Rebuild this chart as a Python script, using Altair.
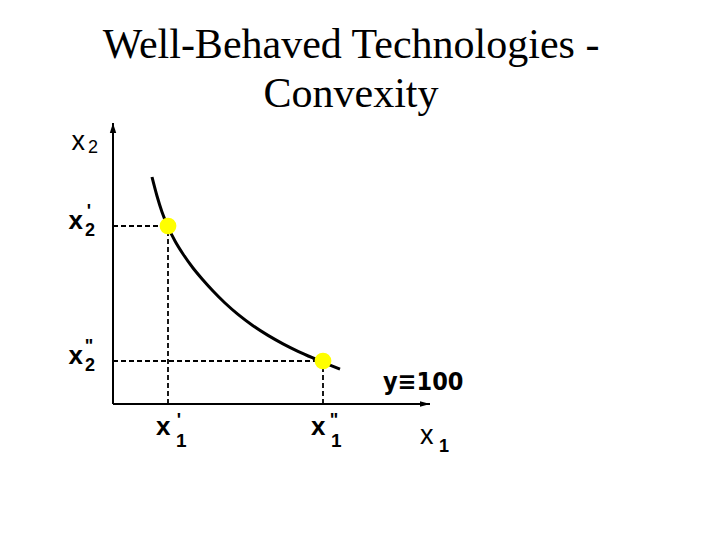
import altair as alt
import pandas as pd

# ---- data (input-quantity units; origin at the axes corner) ----
title_lines = ["Well-Behaved Technologies -", "Convexity"]

curve_x1 = [39, 44, 49, 55, 62, 70, 80, 90, 100, 112, 125, 140, 155, 170, 185, 200, 215, 227]
curve_x2 = [227, 208, 192, 177, 163, 150, 136, 124, 113, 101, 89.6, 78.3, 68.6, 60.2, 52.7, 46, 39.7, 34.9]

bundle_x1 = [55, 210]     # x1', x1''
bundle_x2 = [178, 43]     # x2', x2''
primes = ["'", '"']

x1_axis_end = 317
x2_axis_end = 281
output_label = "y\u2261100"

# ---- frames ----
curve = pd.DataFrame({"x1": curve_x1, "x2": curve_x2})
bundles = pd.DataFrame({"x1": bundle_x1, "x2": bundle_x2, "zero": [0, 0], "prime": primes})
axes_df = pd.DataFrame({"x1": [0, 0], "x2": [0, 0], "x1e": [x1_axis_end, 0], "x2e": [0, x2_axis_end]})
x1_tip = pd.DataFrame({"x1": [x1_axis_end], "x2": [0]})
x2_tip = pd.DataFrame({"x1": [0], "x2": [x2_axis_end]})
curve_end = pd.DataFrame({"x1": [curve_x1[-1]], "x2": [curve_x2[-1]], "t": [output_label]})
t1 = pd.DataFrame({"t": [title_lines[0]]})
t2 = pd.DataFrame({"t": [title_lines[1]]})

xs = alt.Scale(domain=[-105, 599], nice=False, zero=False)
ys = alt.Scale(domain=[-128, 396], nice=False, zero=False)
X = alt.X("x1:Q", scale=xs, axis=None)
Y = alt.Y("x2:Q", scale=ys, axis=None)

SANS = "Liberation Sans"

# axes
axis_lines = alt.Chart(axes_df).mark_rule(color="black", strokeWidth=2).encode(
    x=X, y=Y, x2="x1e:Q", y2="x2e:Q")
up_arrow = alt.Chart(x2_tip).mark_point(
    shape="M0,0L-0.32,1L0.32,1Z", size=400, filled=True, color="black", opacity=1
).encode(x=X, y=Y)
right_arrow = alt.Chart(x1_tip).mark_point(
    shape="M0,0L-1,-0.28L-1,0.28Z", size=400, filled=True, color="black", opacity=1
).encode(x=X, y=Y)

# dashed guides
h_guides = alt.Chart(bundles).mark_rule(color="black", strokeWidth=1.8, strokeDash=[5, 3]).encode(
    x=alt.X("zero:Q", scale=xs, axis=None), x2="x1:Q", y=Y)
v_guides = alt.Chart(bundles).mark_rule(color="black", strokeWidth=1.8, strokeDash=[5, 3]).encode(
    x=X, y=alt.Y("zero:Q", scale=ys, axis=None), y2="x2:Q")

# isoquant
iso = alt.Chart(curve).mark_line(color="black", strokeWidth=3, interpolate="monotone").encode(x=X, y=Y)

# bundles
pts = alt.Chart(bundles).mark_circle(size=280, color="#FFFF00", opacity=1).encode(x=X, y=Y)

# labels on x2 side (x2', x2'')
x2p_base = alt.Chart(bundles).encode(x=alt.X("zero:Q", scale=xs, axis=None), y=Y)
x2p_x = x2p_base.mark_text(font=SANS, fontSize=26, fontWeight="bold", align="right",
                           baseline="alphabetic", dx=-30, dy=3).encode(text=alt.value("x"))
x2p_s = x2p_base.mark_text(font=SANS, fontSize=18, fontWeight="bold", align="left",
                           baseline="alphabetic", dx=-28, dy=10).encode(text=alt.value("2"))
x2p_p = x2p_base.mark_text(font=SANS, fontSize=18, fontWeight="bold", align="center",
                           baseline="alphabetic", dx=-24, dy=-9).encode(text="prime:N")

# labels on x1 side (x1', x1'')
x1p_base = alt.Chart(bundles).encode(x=X, y=alt.Y("zero:Q", scale=ys, axis=None))
x1p_x = x1p_base.mark_text(font=SANS, fontSize=26, fontWeight="bold", align="left",
                           baseline="alphabetic", dx=-12, dy=31).encode(text=alt.value("x"))
x1p_s = x1p_base.mark_text(font=SANS, fontSize=19, fontWeight="bold", align="left",
                           baseline="alphabetic", dx=8, dy=43).encode(text=alt.value("1"))
x1p_p = x1p_base.mark_text(font=SANS, fontSize=18, fontWeight="bold", align="center",
                           baseline="alphabetic", dx=11, dy=22).encode(text="prime:N")

# axis names
x2_name = alt.Chart(x2_tip).encode(x=X, y=Y)
x2_name_x = x2_name.mark_text(font=SANS, fontSize=27, align="right", baseline="alphabetic",
                              dx=-28, dy=27).encode(text=alt.value("x"))
x2_name_s = x2_name.mark_text(font=SANS, fontSize=18, align="left", baseline="alphabetic",
                              dx=-25, dy=30).encode(text=alt.value("2"))
x1_name = alt.Chart(x1_tip).encode(x=X, y=Y)
x1_name_x = x1_name.mark_text(font=SANS, fontSize=27, align="left", baseline="alphabetic",
                              dx=-10, dy=40).encode(text=alt.value("x"))
x1_name_s = x1_name.mark_text(font=SANS, fontSize=18, fontWeight="bold", align="left",
                              baseline="alphabetic", dx=9, dy=48).encode(text=alt.value("1"))

# isoquant label
iso_label = alt.Chart(curve_end).mark_text(
    font="DejaVu Sans Condensed", fontSize=25, fontWeight="bold",
    align="left", baseline="alphabetic", dx=43, dy=21
).encode(x=X, y=Y, text="t:N")

# title
title1 = alt.Chart(t1).mark_text(font="Liberation Serif", fontSize=42, align="center",
                                 baseline="alphabetic").encode(
    x=alt.value(343), y=alt.value(50), text="t:N")
title2 = alt.Chart(t2).mark_text(font="Liberation Serif", fontSize=42, align="center",
                                 baseline="alphabetic").encode(
    x=alt.value(343), y=alt.value(99), text="t:N")

chart = alt.layer(
    h_guides, v_guides, axis_lines, up_arrow, right_arrow, iso, pts,
    x2p_x, x2p_s, x2p_p, x1p_x, x1p_s, x1p_p,
    x2_name_x, x2_name_s, x1_name_x, x1_name_s, iso_label, title1, title2
).properties(
    width=704, height=524, padding=0, autosize="none", background="white"
).configure_view(stroke=None)

chart.save("out.html", embed_options={"renderer": "svg", "actions": False})
